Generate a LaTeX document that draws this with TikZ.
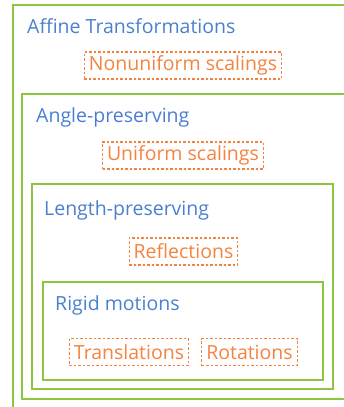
\documentclass[tikz,border=0pt]{standalone}
\usepackage{fontspec}
\setmainfont{Open Sans}
\usetikzlibrary{positioning}
\definecolor{setgreen}{HTML}{8CC63F}
\definecolor{setblue}{HTML}{4A7FD0}
\definecolor{setorange}{HTML}{F5823F}

\begin{document}
\begin{tikzpicture}[x=1pt,y=-1pt,font=\fontsize{19.5}{23}\selectfont,
  setbox/.style={draw=setgreen,line width=1.2pt},
  settitle/.style={text=setblue,anchor=base west,inner sep=0pt},
  member/.style={draw=setorange,text=setorange,line width=1.2pt,
    dash pattern=on 2.5pt off 2pt,inner xsep=4.5pt,inner ysep=0pt,
    minimum height=27pt}]

\useasboundingbox (0,0) rectangle (343,407);

% Nested sets
\draw[setbox] (13,5) rectangle (360,430);
\draw[setbox] (22,94) rectangle (360,399);
\draw[setbox] (32,184) rectangle (333,389);
\draw[setbox] (43,282) rectangle (323,380);

% Set names
\node[settitle] (affine) at (27,33) {Affine Transformations};
\node[settitle] (angle) at (36,122) {Angle-preserving};
\node[settitle] (length) at (44,215) {Length-preserving};
\node[settitle] (rigid) at (55,310) {Rigid motions};

% Members
\node[member] (nonuniform) at (183,65.5) {Nonuniform scalings};
\node[member] (uniform) at (183,155.5) {Uniform scalings};
\node[member] (reflect) at (183.5,251.5) {Reflections};
\node[member] (translate) at (129,352) {Translations};
\node[member] (rotate) at (249.5,352) {Rotations};

\end{tikzpicture}
\end{document}
